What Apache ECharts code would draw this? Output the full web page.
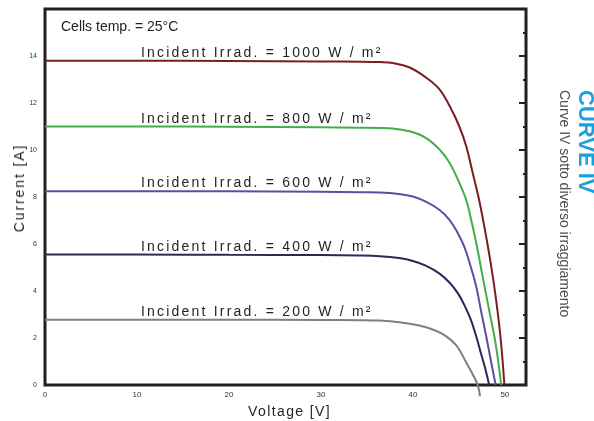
<!DOCTYPE html>
<html>
<head>
<meta charset="utf-8">
<script src="https://cdn.jsdelivr.net/npm/echarts@6/dist/echarts.min.js"></script>
<style>
  body { margin: 0; background: #fff; }
  #wrap { position: relative; width: 594px; height: 421px; }
  #chart { width: 594px; height: 421px; }
  .lbl {
    position: absolute;
    white-space: nowrap;
    font-family: 'Liberation Sans', Arial, sans-serif;
    color: #231f20;
  }
</style>
</head>
<body>
<div id="wrap">
  <div id="chart"></div>
</div>
<script>
// curve names (irradiance, W/m²)
const irradLevels = ['1000', '800', '600', '400', '200'];
const curveColors = ['#7b1d22', '#41ae4a', '#5a4fa2', '#282a5a', '#7f7f7f'];

// voltage [V] / current [A]
const v1000 = [0, 10, 20, 30, 34.2, 36.4, 37.8, 39.6, 41.4, 42.9, 44.0, 45.05, 45.8, 46.5, 47.2, 48.1, 48.7, 49.2, 49.6, 49.95];
const i1000 = [13.80, 13.80, 13.79, 13.77, 13.76, 13.74, 13.70, 13.52, 13.09, 12.58, 11.87, 11.0, 10.16, 9.03, 7.88, 6.02, 4.59, 3.17, 1.75, 0];

const v800 = [0, 10, 20, 30, 34.2, 36.4, 37.8, 39.6, 41.4, 42.9, 44.0, 45.05, 45.8, 46.3, 46.9, 47.6, 48.3, 49.0, 49.6];
const i800 = [11.0, 11.0, 10.99, 10.97, 10.95, 10.94, 10.92, 10.80, 10.52, 10.02, 9.45, 8.6, 7.88, 7.1, 6.02, 4.59, 3.17, 1.75, 0];

const v600 = [0, 10, 20, 30, 34.2, 36.4, 38.5, 40.0, 41.4, 42.9, 44.0, 44.9, 45.6, 46.3, 46.9, 47.4, 48.0, 48.5, 49.0];
const i600 = [8.25, 8.25, 8.24, 8.22, 8.20, 8.19, 8.13, 8.02, 7.80, 7.45, 7.02, 6.45, 5.88, 5.02, 4.17, 3.17, 2.02, 1.0, 0];

const v400 = [0, 10, 20, 30, 34.2, 36.4, 38.5, 40.0, 41.4, 42.9, 44.0, 44.9, 45.6, 46.3, 46.9, 47.4, 47.9, 48.3];
const i400 = [5.55, 5.55, 5.54, 5.53, 5.51, 5.48, 5.40, 5.28, 5.08, 4.74, 4.35, 3.90, 3.40, 2.78, 2.05, 1.35, 0.65, 0];

const v200 = [0, 10, 20, 30, 34.2, 36.4, 38.5, 40.7, 42.5, 43.6, 44.7, 45.3, 45.8, 46.5, 47.05, 47.3];
const i200 = [2.78, 2.78, 2.78, 2.77, 2.76, 2.74, 2.67, 2.53, 2.31, 2.08, 1.70, 1.33, 0.96, 0.46, 0, -0.47];

const voltages = [v1000, v800, v600, v400, v200];
const currents = [i1000, i800, i600, i400, i200];

const chart = echarts.init(document.getElementById('chart'), null, { renderer: 'canvas' });

const series = irradLevels.map(function (name, k) {
  return {
    name: name,
    type: 'line',
    data: voltages[k].map(function (v, j) { return [v, currents[k][j]]; }),
    showSymbol: false,
    smooth: 0.4,
    clip: false,
    lineStyle: { color: curveColors[k], width: 2 },
    itemStyle: { color: curveColors[k] }
  };
});

const option = {
  animation: false,
  backgroundColor: '#fff',
  grid: {
    left: 45, right: 68, top: 9, bottom: 36,
    show: true,
    borderColor: '#231f20',
    borderWidth: 3,
    backgroundColor: 'transparent'
  },
  xAxis: {
    type: 'value',
    min: 0, max: 52.3, interval: 10,
    axisLine: { show: false },
    axisTick: { show: false },
    splitLine: { show: false },
    axisLabel: {
      fontSize: 8, color: '#333',
      fontFamily: 'Liberation Sans, Arial, sans-serif',
      margin: 6,
      showMaxLabel: false
    }
  },
  yAxis: [
    {
      type: 'value',
      min: 0, max: 16, interval: 2,
      axisLine: { show: false },
      axisTick: { show: false },
      splitLine: { show: false },
      axisLabel: {
        fontSize: 7, color: '#333',
        fontFamily: 'Liberation Sans, Arial, sans-serif',
        margin: 8,
        showMaxLabel: false
      }
    },
    {
      type: 'value',
      position: 'right',
      min: 0, max: 16, interval: 2,
      axisLine: { show: false },
      axisLabel: { show: false },
      splitLine: { show: false },
      axisTick: { show: true, inside: true, length: 7, lineStyle: { color: '#231f20', width: 2 } },
      minorTick: { show: true, splitNumber: 2, length: 3, lineStyle: { color: '#231f20', width: 2 } }
    }
  ],
  graphic: [
    {
      type: 'text', left: 61, top: 20,
      style: { text: 'Cells temp. = 25°C', font: '14px "Liberation Sans", Arial, sans-serif', fill: '#231f20' }
    },
    {
      type: 'text', x: 585, y: 90, rotation: -Math.PI / 2,
      style: {
        text: 'CURVE IV', font: 'bold 22px "Liberation Sans", Arial, sans-serif',
        fill: '#1c9fe0', textAlign: 'left', textVerticalAlign: 'middle'
      }
    },
    {
      type: 'text', x: 564, y: 90, rotation: -Math.PI / 2,
      style: {
        text: 'Curve IV sotto diverso irraggiamento', font: '14px "Liberation Sans", Arial, sans-serif',
        fill: '#4d4d4d', textAlign: 'left', textVerticalAlign: 'middle'
      }
    }
  ],
  series: series
};

chart.setOption(option);

// letter-spaced labels as html overlays
const wrap = document.getElementById('wrap');
function addLabel(text, css) {
  const d = document.createElement('div');
  d.className = 'lbl';
  d.textContent = text;
  Object.assign(d.style, css);
  wrap.appendChild(d);
  return d;
}

irradLevels.forEach(function (name, k) {
  const p = chart.convertToPixel({ gridIndex: 0 }, [10.4, currents[k][0]]);
  addLabel('Incident Irrad. = ' + name + ' W / m²', {
    left: Math.round(p[0]) + 'px',
    top: Math.round(p[1] - 17) + 'px',
    fontSize: '14px',
    lineHeight: '16px',
    letterSpacing: '2.2px'
  });
});

addLabel('Voltage [V]', {
  left: '248px', top: '403px', fontSize: '14px', lineHeight: '16px', letterSpacing: '1.4px'
});

addLabel('Current [A]', {
  left: '19px', top: '188px', fontSize: '14px', lineHeight: '16px', letterSpacing: '1.9px',
  transform: 'translate(-50%, -50%) rotate(-90deg)'
});
</script>
</body>
</html>
